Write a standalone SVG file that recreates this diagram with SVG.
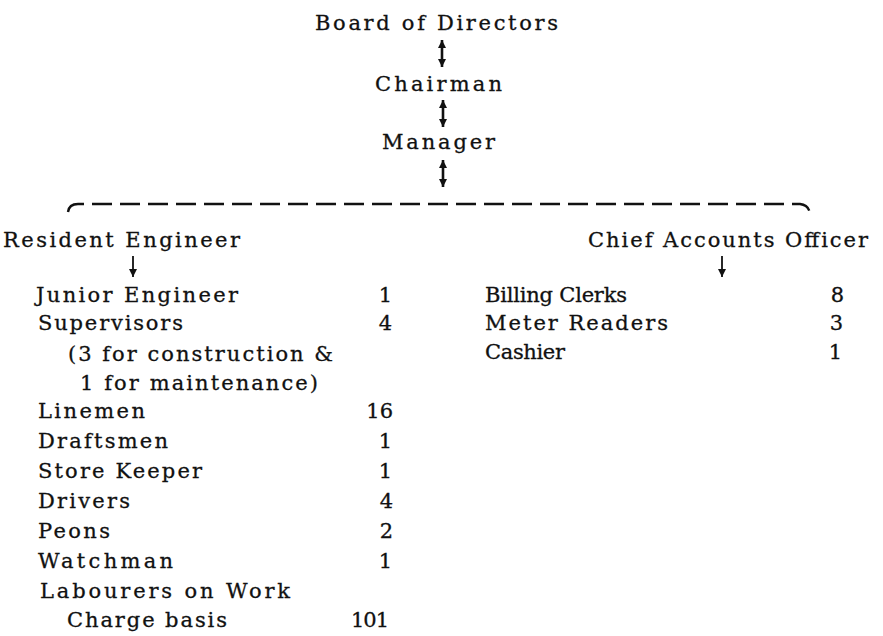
<svg xmlns="http://www.w3.org/2000/svg" width="883" height="636" viewBox="0 0 883 636">
<style>
.t{font-family:'DejaVu Serif','Liberation Serif','Times New Roman',serif;font-size:21px;fill:#111;stroke:#111;stroke-width:0.3}
.num{text-anchor:end}
.conn{stroke:#111;fill:none}
.arr{stroke-width:2.6}
.dash{stroke-width:2.4;stroke-dasharray:20 8}
</style>
<defs>
<marker id="ah" viewBox="0 0 10 10" refX="10" refY="5" markerWidth="8" markerHeight="9" markerUnits="userSpaceOnUse" orient="auto-start-reverse">
<path d="M0,0 L10,5 L0,10 z" fill="#111"/>
</marker>
</defs>
<rect width="883" height="636" fill="#fff"/>
<g id="connectors">
<line class="conn arr" x1="442" y1="40" x2="442" y2="67" marker-start="url(#ah)" marker-end="url(#ah)"/>
<line class="conn arr" x1="443" y1="100" x2="443" y2="127" marker-start="url(#ah)" marker-end="url(#ah)"/>
<line class="conn arr" x1="443" y1="160" x2="443" y2="187" marker-start="url(#ah)" marker-end="url(#ah)"/>
<path class="conn dash" d="M68,212 Q69,204 78,204 L800,204 Q809,205 810,214"/>
<line class="conn" stroke-width="1.8" x1="133" y1="256" x2="133" y2="277" marker-end="url(#ah)"/>
<line class="conn" stroke-width="1.8" x1="722" y1="256" x2="722" y2="277" marker-end="url(#ah)"/>
</g>
<g id="board"><text class="t" x="315" y="30" textLength="243" lengthAdjust="spacing">Board of Directors</text></g>
<g id="chairman"><text class="t" x="375" y="91" textLength="127" lengthAdjust="spacing">Chairman</text></g>
<g id="manager"><text class="t" x="382" y="149" textLength="113" lengthAdjust="spacing">Manager</text></g>
<g id="resident-engineer">
<text class="t" x="3" y="247" textLength="237" lengthAdjust="spacing">Resident Engineer</text>
</g>
<g id="chief-accounts-officer">
<text class="t" x="588" y="247" textLength="280" lengthAdjust="spacing">Chief Accounts Officer</text>
</g>
<g id="engineering-staff">
<text class="t" x="36" y="302" textLength="202" lengthAdjust="spacing">Junior Engineer</text>
<text class="t num" x="392" y="302">1</text>
<text class="t" x="38" y="330" textLength="145" lengthAdjust="spacing">Supervisors</text>
<text class="t num" x="392" y="330">4</text>
<text class="t" x="68" y="361" textLength="265" lengthAdjust="spacing">(3 for construction &amp;</text>
<text class="t" x="80" y="390" textLength="238" lengthAdjust="spacing">1 for maintenance)</text>
<text class="t" x="38" y="418" textLength="107" lengthAdjust="spacing">Linemen</text>
<text class="t num" x="393" y="418">16</text>
<text class="t" x="38" y="448" textLength="130" lengthAdjust="spacing">Draftsmen</text>
<text class="t num" x="392" y="448">1</text>
<text class="t" x="38" y="478" textLength="164" lengthAdjust="spacing">Store Keeper</text>
<text class="t num" x="392" y="478">1</text>
<text class="t" x="38" y="508" textLength="92" lengthAdjust="spacing">Drivers</text>
<text class="t num" x="393" y="508">4</text>
<text class="t" x="38" y="538" textLength="72" lengthAdjust="spacing">Peons</text>
<text class="t num" x="393" y="538">2</text>
<text class="t" x="38" y="568" textLength="135" lengthAdjust="spacing">Watchman</text>
<text class="t num" x="392" y="568">1</text>
<text class="t" x="40" y="598" textLength="250" lengthAdjust="spacing">Labourers on Work</text>
<text class="t" x="67" y="627" textLength="160" lengthAdjust="spacing">Charge basis</text>
<text class="t num" x="389" y="627" textLength="38" lengthAdjust="spacing">101</text>
</g>
<g id="accounts-staff">
<text class="t" x="485" y="302" textLength="142" lengthAdjust="spacing">Billing Clerks</text>
<text class="t num" x="844" y="302">8</text>
<text class="t" x="485" y="330" textLength="183" lengthAdjust="spacing">Meter Readers</text>
<text class="t num" x="843" y="330">3</text>
<text class="t" x="485" y="359" textLength="80" lengthAdjust="spacing">Cashier</text>
<text class="t num" x="842" y="359">1</text>
</g>
</svg>
